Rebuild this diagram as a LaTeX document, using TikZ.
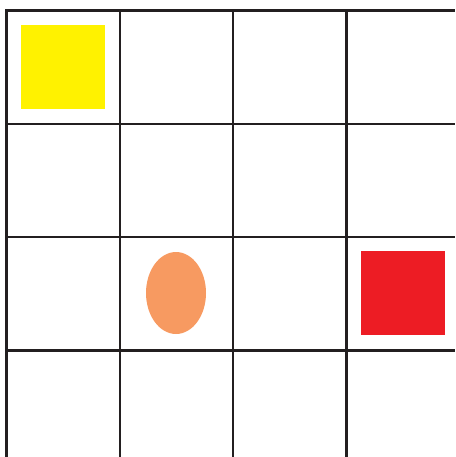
\documentclass[tikz,border=0pt]{standalone}
\usepackage{xcolor}
\usepackage{tikz}
\usetikzlibrary{shapes.geometric}
\definecolor{lineCol}{HTML}{231F20}
\definecolor{startCol}{HTML}{FFF200}
\definecolor{goalCol}{HTML}{ED1C24}
\definecolor{agentCol}{HTML}{F79A61}
\tikzset{
  gridline/.style={draw=lineCol, line width=2.5pt},
  cellbox/.style={rectangle, fill=#1, inner sep=0pt, minimum width=84pt, minimum height=84pt},
  agent/.style={ellipse, fill=agentCol, inner sep=0pt, minimum width=60pt, minimum height=82pt},
}

\begin{document}
\begin{tikzpicture}[x=1pt, y=-1pt]
  \useasboundingbox (0,0) rectangle (455,457);
  % grid (runs off the right and bottom edges)
  \foreach \i in {0,...,3} {
    \draw[gridline] ({6.5+113.3*\i},9.25) -- ({6.5+113.3*\i},457);
    \draw[gridline] (5.25,{10.5+113.3*\i}) -- (455,{10.5+113.3*\i});
  }
  % cell contents
  \node[cellbox=startCol] (start) at (63,67) {};
  \node[agent] (walker) at (176,293) {};
  \node[cellbox=goalCol] (goal) at (403,293) {};
\end{tikzpicture}
\end{document}
